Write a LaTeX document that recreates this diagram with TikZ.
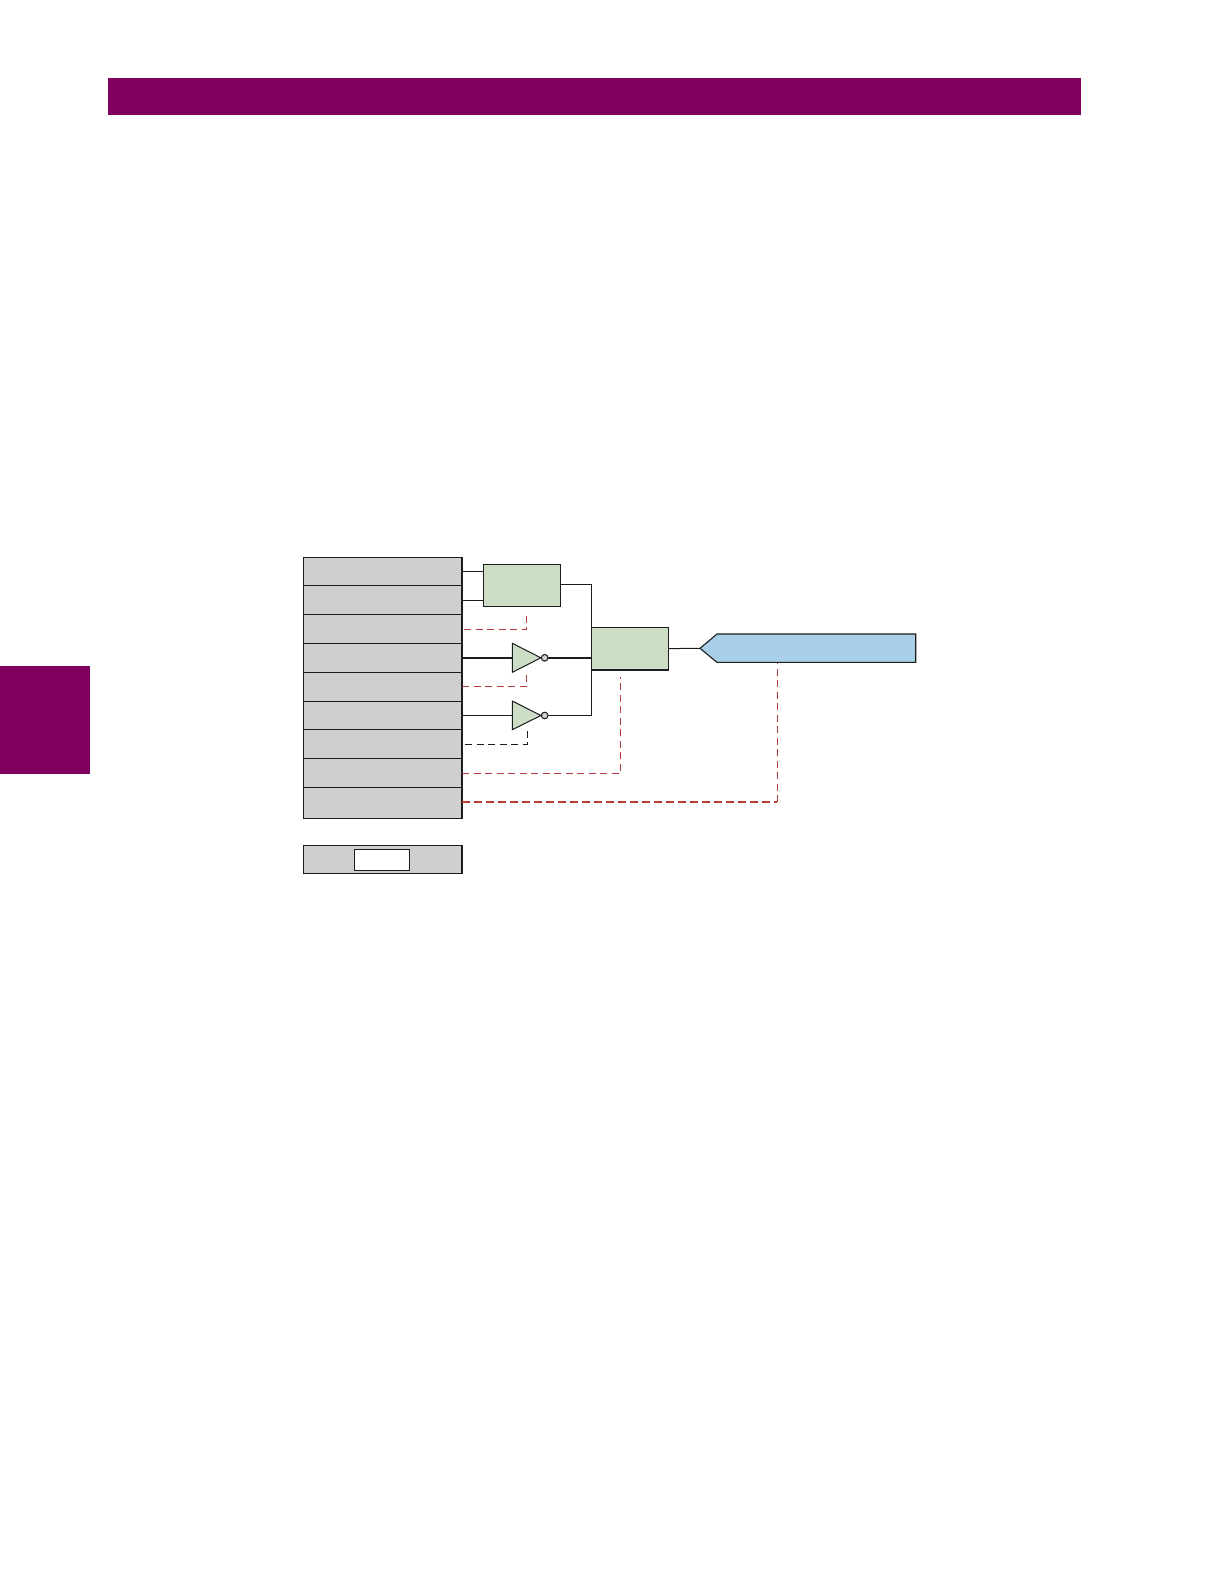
\documentclass[tikz,border=0pt]{standalone}
\definecolor{hdr}{HTML}{800060}
\definecolor{rowgray}{HTML}{CFCFCF}
\definecolor{logicgreen}{HTML}{CCDDC5}
\definecolor{sigblue}{HTML}{A8CFE8}
\definecolor{linkred}{HTML}{B83A3A}
\definecolor{ink}{HTML}{1C1C1C}
\tikzset{
  x=1pt,y=-1pt,
  band/.style={fill=hdr,draw=none},
  rowbox/.style={draw=ink,fill=rowgray,line width=1pt,minimum width=158.7pt,minimum height=#1,inner sep=0pt,outer sep=0pt},
  logicbox/.style={draw=ink,fill=logicgreen,line width=1pt,inner sep=0pt,outer sep=0pt},
  gatebody/.style={draw=ink,fill=logicgreen,line width=1pt,line join=round},
  bubble/.style={circle,draw=ink,fill=rowgray,line width=0.9pt,minimum size=6.5pt,inner sep=0pt,outer sep=0pt},
  wire/.style={draw=ink,line width=1pt},
  heavywire/.style={draw=ink,line width=1.7pt},
  reddash/.style={draw=linkred,line width=0.9pt,dash pattern=on 7pt off 4.5pt},
  reddashheavy/.style={draw=linkred,line width=1.7pt,dash pattern=on 8pt off 4pt},
  inkdash/.style={draw=ink,line width=0.9pt,dash pattern=on 7pt off 4.5pt},
}
\begin{document}
\begin{tikzpicture}
\useasboundingbox (0,0) rectangle (1224,1584);
\fill[white] (0,0) rectangle (1224,1584);
% page furniture
\node[band,minimum width=973pt,minimum height=37pt,inner sep=0pt,outer sep=0pt] (header) at (594.5,96.5) {};
\node[band,minimum width=90pt,minimum height=108pt,inner sep=0pt,outer sep=0pt] (tab) at (45,720) {};
% settings column
\node[rowbox=28pt] (r1) at (382.7,571.7) {};
\node[rowbox=28.6pt] (r2) at (382.7,600) {};
\node[rowbox=29pt] (r3) at (382.7,629.2) {};
\node[rowbox=29pt] (r4) at (382.7,657.8) {};
\node[rowbox=29pt] (r5) at (382.7,686.5) {};
\node[rowbox=28.4pt] (r6) at (382.7,715.5) {};
\node[rowbox=28.6pt] (r7) at (382.7,744.2) {};
\node[rowbox=29pt] (r8) at (382.7,773.2) {};
\node[rowbox=31pt,anchor=north] (r9) at (382.7,787.4) {};
\coordinate (r9out) at (462,802);
\draw[heavywire,line width=1.4pt] (r1.north east) -- (r9.south east);
\draw[heavywire,line width=1.4pt] (r1.south west) -- (r1.south east);
\draw[heavywire,line width=1.4pt] (r6.south west) -- (r6.south east);
\node[rowbox=28.4pt] (blk) at (382.7,859.5) {};
\draw[heavywire,line width=1.5pt] (blk.north east) -- (blk.south east) -- (blk.south west);
\node[draw=ink,fill=white,line width=1.4pt,minimum width=54.6pt,minimum height=21pt,inner sep=0pt,outer sep=0pt] (blkval) at (382,860.2) {};
% logic boxes
\node[logicbox,minimum width=77pt,minimum height=42pt] (and1) at (521.8,585.3) {};
\node[logicbox,minimum width=77pt,minimum height=42.7pt] (and2) at (630.2,648.6) {};
\draw[heavywire,line width=1.5pt] (and2.south west) -- (and2.south east);
% inverters
\coordinate (inv1a) at (512.3,643.3);
\coordinate (inv1b) at (512.3,672.3);
\coordinate (inv1t) at (540.9,657.8);
\coordinate (inv2a) at (512.3,701);
\coordinate (inv2b) at (512.3,729.7);
\coordinate (inv2t) at (540.9,715.5);
\node[bubble] (bub1) at (544.7,657.8) {};
\node[bubble] (bub2) at (544.7,715.5) {};
% output signal
\coordinate (tip) at (700,648.3);
\coordinate (sigtl) at (717,634);
\coordinate (sigtr) at (915.7,634);
\coordinate (sigbr) at (915.7,662.4);
\coordinate (sigbl) at (717,662.4);
\coordinate (and1out) at (560.3,584.3);
\coordinate (and1drop) at (526.7,612.5);
\coordinate (inv1drop) at (526.7,671);
\coordinate (inv2drop) at (527.7,730.5);
\coordinate (and2drop) at (620.7,677);
\coordinate (sigdrop) at (777.3,663);
% solid connectors
\draw[wire] (r1.east) -- (and1.west |- r1.east);
\draw[wire] (r2.east) -- (and1.west |- r2.east);
\draw[wire] (and1out) -| (and2.north west);
\draw[wire] (and2.south west) |- (bub2.east);
\draw[heavywire] (r4.east) -- (inv1a |- r4.east);
\draw[heavywire] (bub1.east) -- (and2.west |- bub1.east);
\draw[wire] (r6.east) -- (inv2a |- r6.east);
\draw[wire] (and2.east) -- (tip);
% dashed connectors
\draw[reddash] ([xshift=2pt]r3.east) -| (and1drop);
\draw[reddash] (r5.east) -| (inv1drop);
\draw[inkdash] ([xshift=3pt]r7.east) -| (inv2drop);
\draw[reddash] (r8.east) -| (and2drop);
\draw[reddashheavy] (r9out) -- (sigdrop |- r9out);
\draw[reddash] (sigdrop |- r9out) -- (sigdrop);
% shapes on top
\draw[gatebody] (inv1a) -- (inv1t) -- (inv1b) -- cycle;
\draw[gatebody] (inv2a) -- (inv2t) -- (inv2b) -- cycle;
\node[bubble] at (bub1) {};
\node[bubble] at (bub2) {};
\draw[fill=sigblue,draw=ink,line width=1.1pt,line join=miter] (tip) -- (sigtl) -- (sigtr) -- (sigbr) -- (sigbl) -- cycle;
\end{tikzpicture}
\end{document}
